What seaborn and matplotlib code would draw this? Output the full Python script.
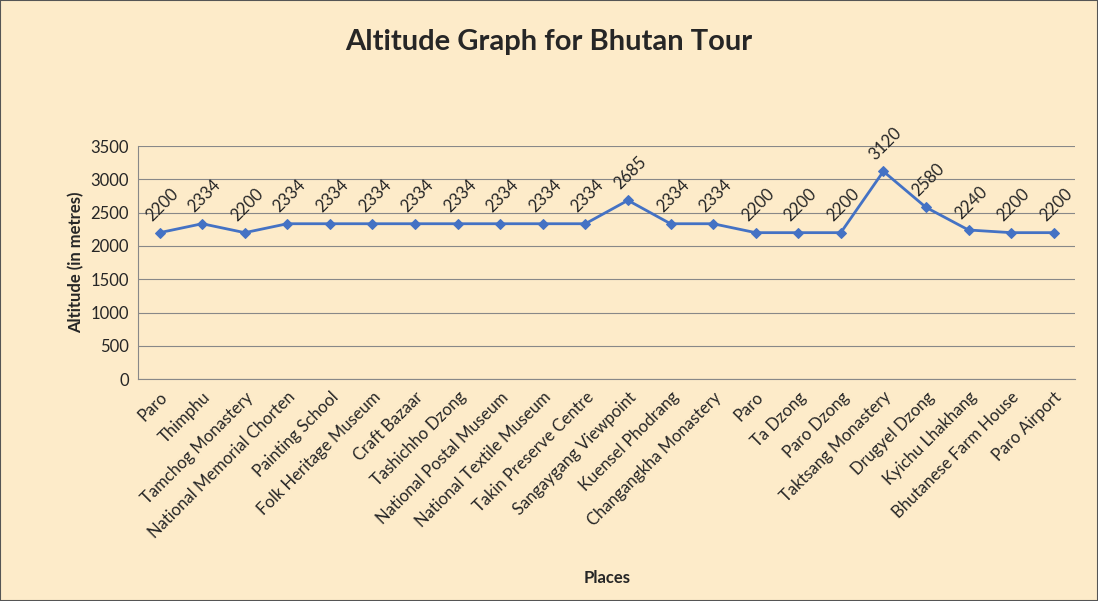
import matplotlib
matplotlib.use("Agg")
import matplotlib.pyplot as plt
import seaborn as sns
import pandas as pd

places = ["Paro", "Thimphu", "Tamchog Monastery", "National Memorial Chorten",
          "Painting School", "Folk Heritage Museum", "Craft Bazaar", "Tashichho Dzong",
          "National Postal Museum", "National Textile Museum", "Takin Preserve Centre",
          "Sangaygang Viewpoint", "Kuensel Phodrang", "Changangkha Monastery", "Paro",
          "Ta Dzong", "Paro Dzong", "Taktsang Monastery", "Drugyel Dzong",
          "Kyichu Lhakhang", "Bhutanese Farm House", "Paro Airport"]
altitude = [2200, 2334, 2200, 2334, 2334, 2334, 2334, 2334, 2334, 2334, 2334,
            2685, 2334, 2334, 2200, 2200, 2200, 3120, 2580, 2240, 2200, 2200]

df = pd.DataFrame({"pos": range(len(places)), "alt": altitude})

sns.set_style("white")
plt.rcParams['font.family'] = ['Lato', 'DejaVu Sans']
bg = "#FDEBC9"
fig = plt.figure(figsize=(10.98, 6.01), dpi=100, facecolor=bg)
ax = fig.add_axes([0.126, 0.369, 0.853, 0.388])
ax.set_facecolor(bg)

sns.lineplot(data=df, x="pos", y="alt", ax=ax, color="#4472C4", marker="D",
             markersize=5, markeredgecolor="#4472C4", linewidth=2)
for i, v in enumerate(altitude):
    ax.annotate(str(v), (i, v), xytext=(-4, 6), textcoords="offset points",
                rotation=45, fontsize=12, ha="left", va="bottom",
                rotation_mode="anchor")

ax.set_xlim(-0.5, len(places) - 0.5)
ax.set_ylim(0, 3500)
ax.set_yticks(range(0, 3501, 500))
ax.set_xticks(range(len(places)))
ax.set_xticklabels(places, rotation=45, ha="right", rotation_mode="anchor", fontsize=12)
ax.tick_params(axis="y", labelsize=12)
ax.grid(axis="y", color="#888888", linewidth=0.8)
for s in ["top", "right"]:
    ax.spines[s].set_visible(False)
ax.spines["left"].set_color("#888888")
ax.spines["bottom"].set_color("#888888")
ax.set_xlabel("Places", fontsize=12, fontweight="bold")
ax.xaxis.set_label_coords(0.5, -0.82)
ax.set_ylabel("Altitude (in metres)", fontsize=12, fontweight="bold")
fig.text(0.5, 0.93, "Altitude Graph for Bhutan Tour", ha="center", va="center",
         fontsize=21, fontweight="bold")
fig.patches.append(plt.Rectangle((0, 0), 1, 1, transform=fig.transFigure,
                                 fill=False, edgecolor="#555555", linewidth=1.5))
fig.savefig("out.png", dpi=100, facecolor=bg)
